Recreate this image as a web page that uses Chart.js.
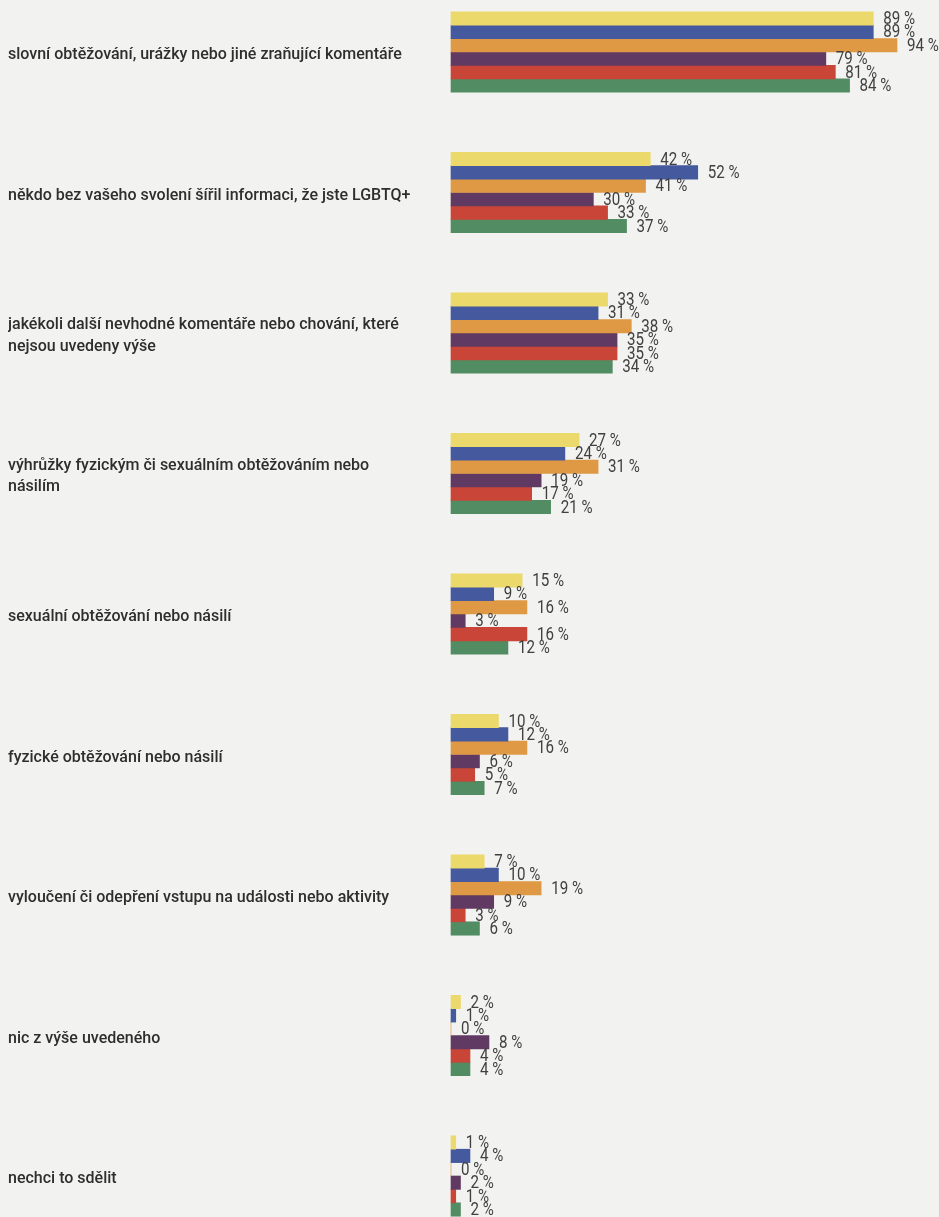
<!DOCTYPE html>
<html>
<head>
<meta charset="utf-8">
<script src="https://cdn.jsdelivr.net/npm/chart.js@4"></script>
<style>
html,body{margin:0;padding:0;background:#f2f3f0;}
canvas{display:block;}
</style>
</head>
<body>
<canvas id="c" width="939" height="1217"></canvas>
<script>
const categories = [
  "slovní obtěžování, urážky nebo jiné zraňující komentáře",
  "někdo bez vašeho svolení šířil informaci, že jste LGBTQ+",
  ["jakékoli další nevhodné komentáře nebo chování, které", "nejsou uvedeny výše"],
  ["výhrůžky fyzickým či sexuálním obtěžováním nebo", "násilím"],
  "sexuální obtěžování nebo násilí",
  "fyzické obtěžování nebo násilí",
  "vyloučení či odepření vstupu na události nebo aktivity",
  "nic z výše uvedeného",
  "nechci to sdělit"
];
const series1 = [89, 42, 33, 27, 15, 10, 7, 2, 1];
const series2 = [89, 52, 31, 24, 9, 12, 10, 1, 4];
const series3 = [94, 41, 38, 31, 16, 16, 19, 0, 0];
const series4 = [79, 30, 35, 19, 3, 6, 9, 8, 2];
const series5 = [81, 33, 35, 17, 16, 5, 3, 4, 1];
const series6 = [84, 37, 34, 21, 12, 7, 6, 4, 2];
const colors = ["#ecd96b", "#44599e", "#df9843", "#603a62", "#c84537", "#528c62"];
const allSeries = [series1, series2, series3, series4, series5, series6];

const valueLabels = {
  id: "valueLabels",
  afterDatasetsDraw(chart) {
    const ctx = chart.ctx;
    ctx.save();
    ctx.font = "18px 'Roboto', sans-serif";
    ctx.fillStyle = "#404040";
    ctx.textAlign = "left";
    ctx.textBaseline = "middle";
    const sx = 0.84;
    chart.data.datasets.forEach((ds, di) => {
      const meta = chart.getDatasetMeta(di);
      meta.data.forEach((bar, i) => {
        ctx.save();
        ctx.translate(bar.x + 10, bar.y + 1);
        ctx.scale(sx, 1);
        ctx.fillText(ds.data[i] + " %", 0, 0);
        ctx.restore();
      });
    });
    ctx.restore();
  }
};

new Chart(document.getElementById("c"), {
  type: "bar",
  data: {
    labels: categories,
    datasets: allSeries.map((d, i) => ({
      label: "s" + (i + 1),
      data: d,
      backgroundColor: colors[i],
      borderWidth: 0,
      barThickness: 13.4,
      clip: false
    }))
  },
  options: {
    indexAxis: "y",
    responsive: false,
    animation: false,
    layout: { padding: { left: 8, right: 13.5, top: 52, bottom: 41 } },
    plugins: { legend: { display: false }, tooltip: { enabled: false } },
    scales: {
      x: { display: false, min: 0, max: 100 },
      y: {
        offset: false,
        grid: { display: false },
        border: { display: false },
        ticks: {
          crossAlign: "far",
          padding: 0,
          labelOffset: 3,
          color: "#2e2e2e",
          font: { family: "Roboto", size: 16, weight: "500", lineHeight: 1.35 }
        },
        afterFit(scale) { scale.width = 443; }
      }
    }
  },
  plugins: [valueLabels]
});
</script>
</body>
</html>
